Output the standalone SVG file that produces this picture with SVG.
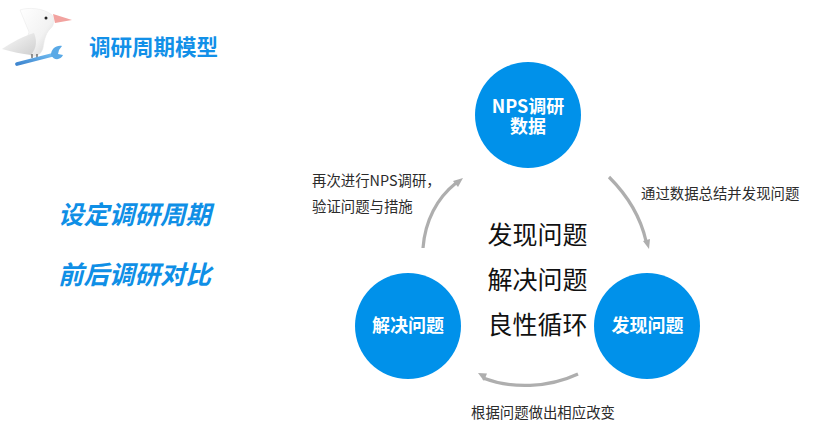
<svg xmlns="http://www.w3.org/2000/svg" width="830" height="437" viewBox="0 0 830 437">
<defs>
<style>
text{font-family:"Noto Sans CJK SC","Liberation Sans",sans-serif}
.node{fill:#0091ea}
.nl{font-size:18px;font-weight:700;fill:#fff;text-anchor:middle}
.cap{font-size:14.4px;fill:#2b2b2b}
.mid{font-size:25px;fill:#111;text-anchor:middle}
.side{font-size:25.5px;font-weight:700;font-style:italic;fill:#0f8fe6}
.arc{fill:none;stroke:#aeaeae;stroke-width:3.2;stroke-linecap:butt}
.head{fill:#aeaeae}
</style>
<linearGradient id="body" x1="0" y1="0" x2="1" y2="1"><stop offset="0" stop-color="#fff"/><stop offset=".6" stop-color="#f2f2f2"/><stop offset="1" stop-color="#c9c9c9"/></linearGradient>
<linearGradient id="wing" x1="0" y1="0" x2="1" y2="1"><stop offset="0" stop-color="#fafafa"/><stop offset="1" stop-color="#cfcfcf"/></linearGradient>
<linearGradient id="wr" x1="0" y1="1" x2="1" y2="0"><stop offset="0" stop-color="#3f86cf"/><stop offset="1" stop-color="#6db8ee"/></linearGradient>
</defs>
<g id="logo">
<path d="M20 10C28 7 44 8 52 15C55 20 54 26 50 29C45 34 44 42 43 48C41 55 36 57 31 56C27 50 26 40 29 32C26 25 23 17 20 10Z" fill="url(#body)" stroke="#e6e6e6" stroke-width=".5"/>
<path d="M2 49C12 42 24 36 34 33C37 40 37 48 31 55C22 54 12 52 2 49Z" fill="url(#wing)"/>
<path d="M53 14L72 20L55 23Z" fill="#f2a3a0"/>
<circle cx="46" cy="18" r="1.5" fill="#222"/>
<path d="M32 54V58M37 54V58" stroke="#444" stroke-width="1.1"/>
<path d="M17 64L52 55" stroke="url(#wr)" stroke-width="3.8" stroke-linecap="round" fill="none"/>
<path d="M62 46C56 45 51 49 51 55C54 61 61 60 63 55L58 54L59 50Z" fill="#5aa9e6"/>
</g>
<g id="title"><text x="89" y="55" font-size="21.5" font-weight="700" fill="#1290e8">调研周期模型</text></g>
<g id="side">
<text class="side" x="58" y="224">设定调研周期</text>
<text class="side" x="58" y="284">前后调研对比</text>
</g>
<g id="center">
<text class="mid" x="537.500" y="244">发现问题</text>
<text class="mid" x="537.500" y="289">解决问题</text>
<text class="mid" x="537.500" y="334">良性循环</text>
</g>
<g id="node-nps">
<circle class="node" cx="528" cy="115" r="53"/>
<text class="nl" x="528" y="113">NPS调研<tspan x="528" dy="20">数据</tspan></text>
</g>
<g id="node-find">
<circle class="node" cx="647" cy="326" r="53"/>
<text class="nl" x="647.500" y="332">发现问题</text>
</g>
<g id="node-solve">
<circle class="node" cx="408" cy="326" r="53"/>
<text class="nl" x="408" y="332">解决问题</text>
</g>
<g id="connectors">
<path class="arc" d="M609 177C628 196 641 219 646 241"/>
<path class="head" d="M643 241L650 239L649 249Z"/>
<path class="arc" d="M578 374C548 388 512 389 483 378"/>
<path class="head" d="M478 373L487 373.500L484 381Z"/>
<path class="arc" d="M423 248C425 221 437 198 456 183"/>
<path class="head" d="M463 178L458 187L453 181Z"/>
</g>
<g id="captions">
<text class="cap" x="641" y="199">通过数据总结并发现问题</text>
<text class="cap" x="471" y="418">根据问题做出相应改变</text>
<text class="cap" x="312" y="186">再次进行NPS调研，</text>
<text class="cap" x="312" y="212">验证问题与措施</text>
</g>
</svg>
